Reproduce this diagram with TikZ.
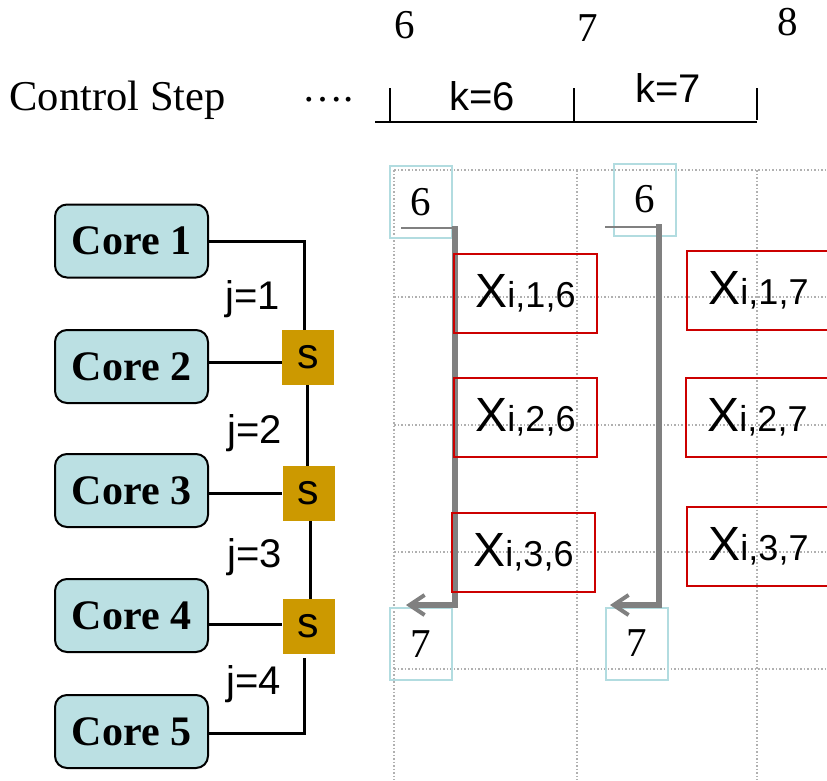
\documentclass[tikz,border=0pt]{standalone}
\usepackage{fontspec}
\setmainfont{Liberation Serif}
\setsansfont{Liberation Sans}
\usetikzlibrary{arrows.meta}

\definecolor{corefill}{HTML}{BBE0E3}
\definecolor{switchgold}{HTML}{CC9900}
\definecolor{markblue}{HTML}{B2DCE0}
\definecolor{varred}{HTML}{CC0000}
\definecolor{flowgray}{HTML}{808080}
\definecolor{gridgray}{HTML}{B0B0B0}

\newcommand{\xvar}[2]{{\fontsize{48}{48}\selectfont X}{\fontsize{36}{36}\selectfont i,#1,#2}}

\begin{document}
\begin{tikzpicture}[x=1pt,y=-1pt,
  serif40/.style={font=\fontsize{41}{41}\selectfont},
  sans40/.style={font=\sffamily\fontsize{40}{40}\selectfont},
  core/.style={draw=black, line width=2pt, fill=corefill, rounded corners=12pt,
    minimum width=153pt, minimum height=73pt, inner sep=0pt,
    font=\fontsize{42}{42}\selectfont\bfseries},
  switch/.style={fill=switchgold, minimum width=52pt, minimum height=55pt, inner sep=0pt,
    font=\sffamily\fontsize{43}{43}\selectfont},
  link/.style={draw=black, line width=3pt},
  stepmark/.style={draw=markblue, line width=2pt, minimum width=62pt, minimum height=72pt,
    inner sep=0pt, font=\fontsize{41}{41}\selectfont},
  xbox/.style={draw=varred, line width=2pt, minimum width=143pt, minimum height=79pt,
    inner sep=0pt, font=\sffamily},
  gridline/.style={gridgray, line width=1.2pt, dash pattern=on 1.5pt off 2pt},
  flowthin/.style={flowgray, line width=1.5pt},
  flow/.style={flowgray, line width=5.5pt, line join=miter,
    -{Straight Barb[length=15pt, width=20pt, line width=4pt]}}
]
\clip (0,0) rectangle (827,780);

% dotted time grid
\foreach \gx in {394,577,757} \draw[gridline] (\gx,170) -- (\gx,780);
\foreach \gy in {170,297,425,552,669} \draw[gridline] (394,\gy) -- (827,\gy);

% control step axis
\node[serif40, anchor=west, font=\fontsize{42.5}{42.5}\selectfont] (cs) at (6,100) {Control Step};
\node[serif40] (dots) at (328,100) {\dots.};
\node[serif40] (t6) at (405,25) {6};
\node[serif40] (t7) at (588,28) {7};
\node[serif40] (t8) at (788,22) {8};
\coordinate (axl) at (375,122);
\coordinate (axr) at (757,122);
\draw[line width=1.5pt] (axl) -- (axr);
\draw[line width=1.5pt] (390,88) -- (390,122);
\draw[line width=1.5pt] (574,88) -- (574,122);
\draw[line width=1.5pt] (757,88) -- (757,120);
\node[sans40] (k6) at (482,96) {k=6};
\node[sans40] (k7) at (668,88) {k=7};

% cores and switches
\node[core] (c1) at (131.5,241) {Core 1};
\node[core] (c2) at (131.5,366.5) {Core 2};
\node[core] (c3) at (131.5,490.5) {Core 3};
\node[core] (c4) at (131.5,615.5) {Core 4};
\node[core] (c5) at (131.5,731.5) {Core 5};
\node[switch] (s1) at (308,357.5) {s};
\node[switch] (s2) at (308.5,493.5) {s};
\node[switch] (s3) at (308.5,626) {s};

\draw[link] (c1.east) -- (304,241) -- (304,330);
\draw[link] (c2.east |- 0,362) -- (s1.west |- 0,362);
\draw[link] (307,385) -- (307,466);
\draw[link] (c3.east |- 0,493) -- (s2.west |- 0,493);
\draw[link] (310,521) -- (310,599);
\draw[link] (c4.east |- 0,624) -- (s3.west |- 0,624);
\draw[link] (304,658) -- (304,733) -- (c5.east |- 0,733);

\node[sans40] (j1) at (253,299) {j=1};
\node[sans40] (j2) at (255,433) {j=2};
\node[sans40] (j3) at (255,557) {j=3};
\node[sans40] (j4) at (254,684) {j=4};

% step boundary marks
\node[stepmark] (m6a) at (421,202) {6};
\node[stepmark] (m6b) at (645,199.5) {6};
\node[stepmark] (m7a) at (421,644) {7};
\node[stepmark] (m7b) at (637,643.5) {7};

% flow from one step to the next
\coordinate (fa0) at (401,228);
\coordinate (fa1) at (452,228);
\coordinate (fa2) at (455,226);
\coordinate (fa3) at (455,605);
\coordinate (fa4) at (406,605);
\draw[flowthin] (fa0) -- (fa1);
\draw[flow] (fa2) -- (fa3) -- (fa4);
\coordinate (fb0) at (605,227);
\coordinate (fb1) at (657,227);
\coordinate (fb2) at (659,224);
\coordinate (fb3) at (659,605);
\coordinate (fb4) at (610,605);
\draw[flowthin] (fb0) -- (fb1);
\draw[flow] (fb2) -- (fb3) -- (fb4);

% decision variables
\node[xbox] (x16) at (525.5,293.5) {\xvar{1}{6}};
\node[xbox] (x26) at (525.5,417) {\xvar{2}{6}};
\node[xbox] (x36) at (523.5,552.5) {\xvar{3}{6}};
\node[xbox] (x17) at (758.5,290.5) {\xvar{1}{7}};
\node[xbox] (x27) at (757.5,417) {\xvar{2}{7}};
\node[xbox] (x37) at (758.5,546.5) {\xvar{3}{7}};
\end{tikzpicture}
\end{document}
